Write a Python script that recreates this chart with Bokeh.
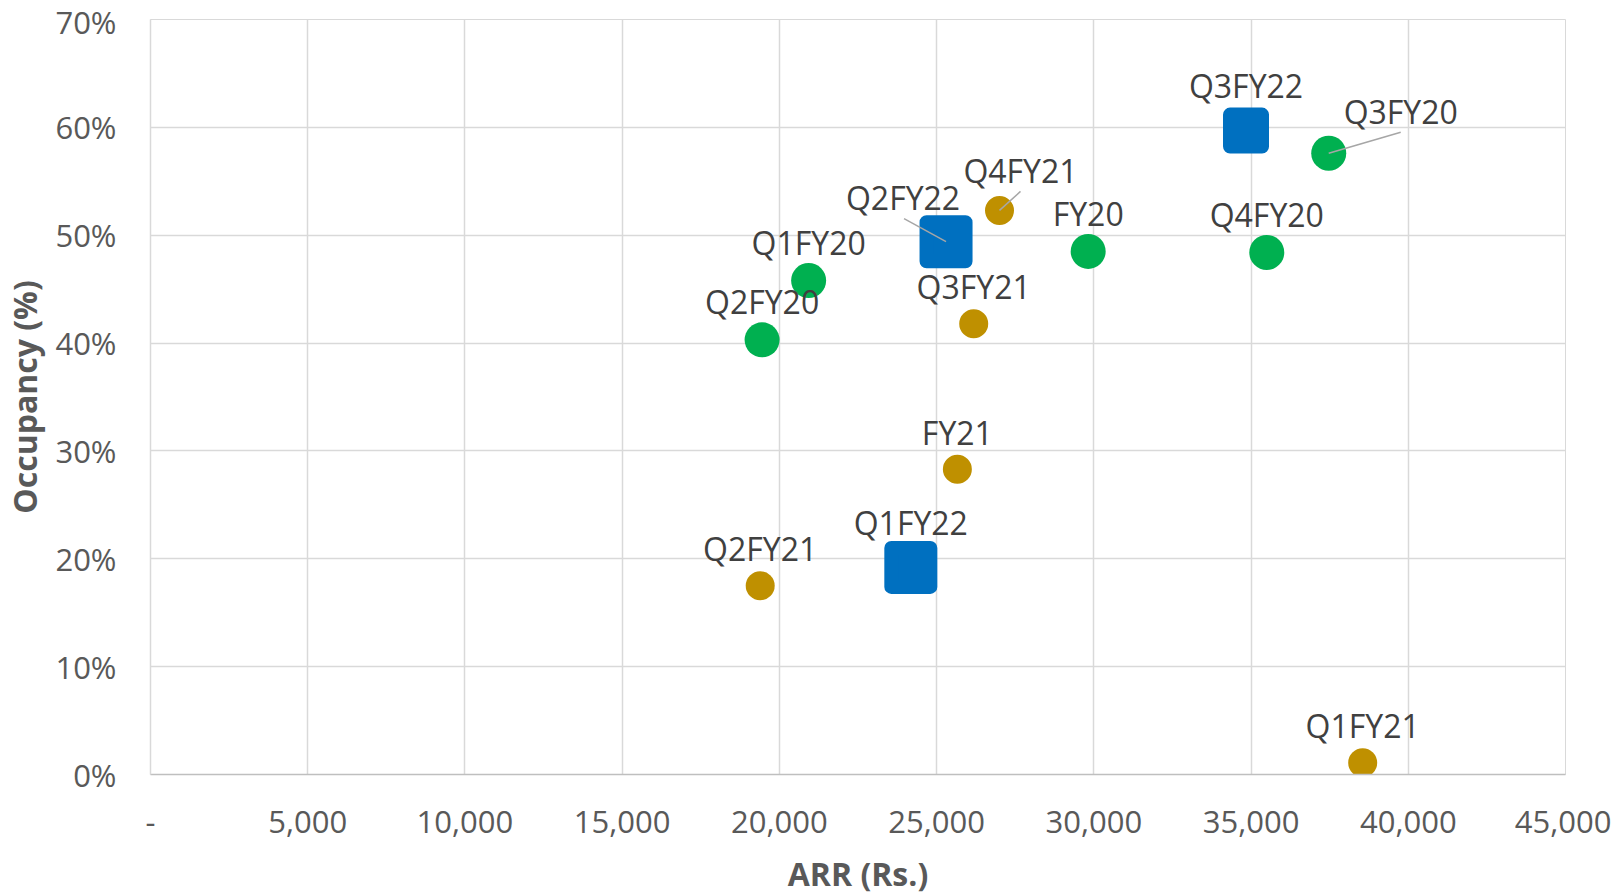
from bokeh.plotting import figure
from bokeh.models import ColumnDataSource, LabelSet, Range1d, NumeralTickFormatter, FixedTicker
from bokeh.core.properties import value
from bokeh.embed import file_html
from bokeh.resources import INLINE

# ---------------- data ----------------
labels_fy20 = ["Q1FY20", "Q2FY20", "Q3FY20", "Q4FY20", "FY20"]
arr_fy20 = [20930, 19450, 37470, 35500, 29820]
occ_fy20 = [0.458, 0.403, 0.576, 0.484, 0.485]

labels_fy21 = ["Q1FY21", "Q2FY21", "Q3FY21", "Q4FY21", "FY21"]
arr_fy21 = [38550, 19390, 26180, 27000, 25660]
occ_fy21 = [0.011, 0.175, 0.418, 0.523, 0.283]

labels_fy22 = ["Q1FY22", "Q2FY22", "Q3FY22"]
arr_fy22 = [24180, 25300, 34840]
occ_fy22 = [0.192, 0.494, 0.597]

x_ticks = [0, 5000, 10000, 15000, 20000, 25000, 30000, 35000, 40000, 45000]
y_ticks = [0, 0.1, 0.2, 0.3, 0.4, 0.5, 0.6, 0.7]

# ---------------- style ----------------
FW, FH = 1415, 755
X0, X1 = 0, 45000
Y0, Y1 = 0, 0.70
FONT = "Open Sans"
GREEN, GOLD, BLUE = "#00B050", "#BF9000", "#0070C0"

# label offsets in screen pixels (dx right, dy up) and leader-line starts
label_off = {
    "Q3FY20": (72, 42), "Q4FY21": (21, 40), "Q2FY22": (-43, 44),
}
leader_start = {
    "Q3FY20": (72, 21), "Q4FY21": (21, 19), "Q2FY22": (-42, 23),
}
default_dy = {"fy20": 38, "fy21": 37, "fy22": 45}
blue_sizes = [39, 39, 32]

p = figure(frame_width=FW, frame_height=FH,
           x_range=Range1d(X0, X1), y_range=Range1d(Y0, Y1),
           output_backend="svg", toolbar_location=None,
           min_border_left=139, min_border_top=19,
           min_border_right=46, min_border_bottom=100)
p.outline_line_color = "#d9d9d9"
p.background_fill_color = "white"

for ax in (p.xaxis[0], p.yaxis[0]):
    ax.major_tick_in = 0
    ax.major_tick_out = 0
    ax.minor_tick_in = 0
    ax.minor_tick_out = 0
    ax.major_label_text_font = FONT
    ax.major_label_text_font_size = "31px"
    ax.major_label_text_color = "#595959"
    ax.axis_label_text_font = FONT
    ax.axis_label_text_font_size = "32px"
    ax.axis_label_text_font_style = "bold"
    ax.axis_label_text_color = "#595959"

p.xaxis.ticker = FixedTicker(ticks=x_ticks)
p.yaxis.ticker = FixedTicker(ticks=y_ticks)
p.xaxis.formatter = NumeralTickFormatter(format="0,0")
p.xaxis.major_label_overrides = {0: "-"}
p.yaxis.formatter = NumeralTickFormatter(format="0%")
p.xaxis.axis_label = "ARR (Rs.)"
p.yaxis.axis_label = "Occupancy (%)"
p.xaxis.axis_line_color = "#bfbfbf"
p.yaxis.axis_line_color = "#d9d9d9"
p.xaxis.axis_line_width = 1.5
p.yaxis.axis_line_width = 1.5
p.xaxis.major_label_standoff = 36
p.yaxis.major_label_standoff = 34
p.xaxis.axis_label_standoff = 16
p.yaxis.axis_label_standoff = 6
p.grid.grid_line_color = "#d9d9d9"
p.grid.grid_line_width = 1.5

ux = (X1 - X0) / FW
uy = (Y1 - Y0) / FH

def series_source(labels, xs, ys, key):
    xo, yo = [], []
    for lab in labels:
        dx, dy = label_off.get(lab, (0, default_dy[key]))
        xo.append(dx)
        yo.append(dy)
    return ColumnDataSource(dict(x=xs, y=ys, label=labels, xo=xo, yo=yo))

src20 = series_source(labels_fy20, arr_fy20, occ_fy20, "fy20")
src21 = series_source(labels_fy21, arr_fy21, occ_fy21, "fy21")
src22 = series_source(labels_fy22, arr_fy22, occ_fy22, "fy22")
src22.data["size"] = blue_sizes

p.scatter("x", "y", source=src20, marker="circle", size=35, fill_color=GREEN, line_color=None)
p.scatter("x", "y", source=src21, marker="circle", size=29, fill_color=GOLD, line_color=None)
p.scatter("x", "y", source=src22, marker="square", size="size", fill_color=BLUE,
          line_color=BLUE, line_width=14, line_join="round")

# leader lines
lx0, ly0, lx1, ly1 = [], [], [], []
for labels, xs, ys in ((labels_fy20, arr_fy20, occ_fy20), (labels_fy21, arr_fy21, occ_fy21),
                       (labels_fy22, arr_fy22, occ_fy22)):
    for lab, x, y in zip(labels, xs, ys):
        if lab in leader_start:
            sx, sy = leader_start[lab]
            lx0.append(x + sx * ux)
            ly0.append(y + sy * uy)
            lx1.append(x)
            ly1.append(y)
p.segment(lx0, ly0, lx1, ly1, line_color="#a6a6a6", line_width=1.5)

for src in (src20, src21, src22):
    p.add_layout(LabelSet(x="x", y="y", text="label", source=src, x_offset="xo", y_offset="yo",
                          text_align="center", text_baseline="middle",
                          text_font=value(FONT), text_font_size="32px", text_color="#404040"))

open("out.html", "w").write(file_html(p, INLINE))
